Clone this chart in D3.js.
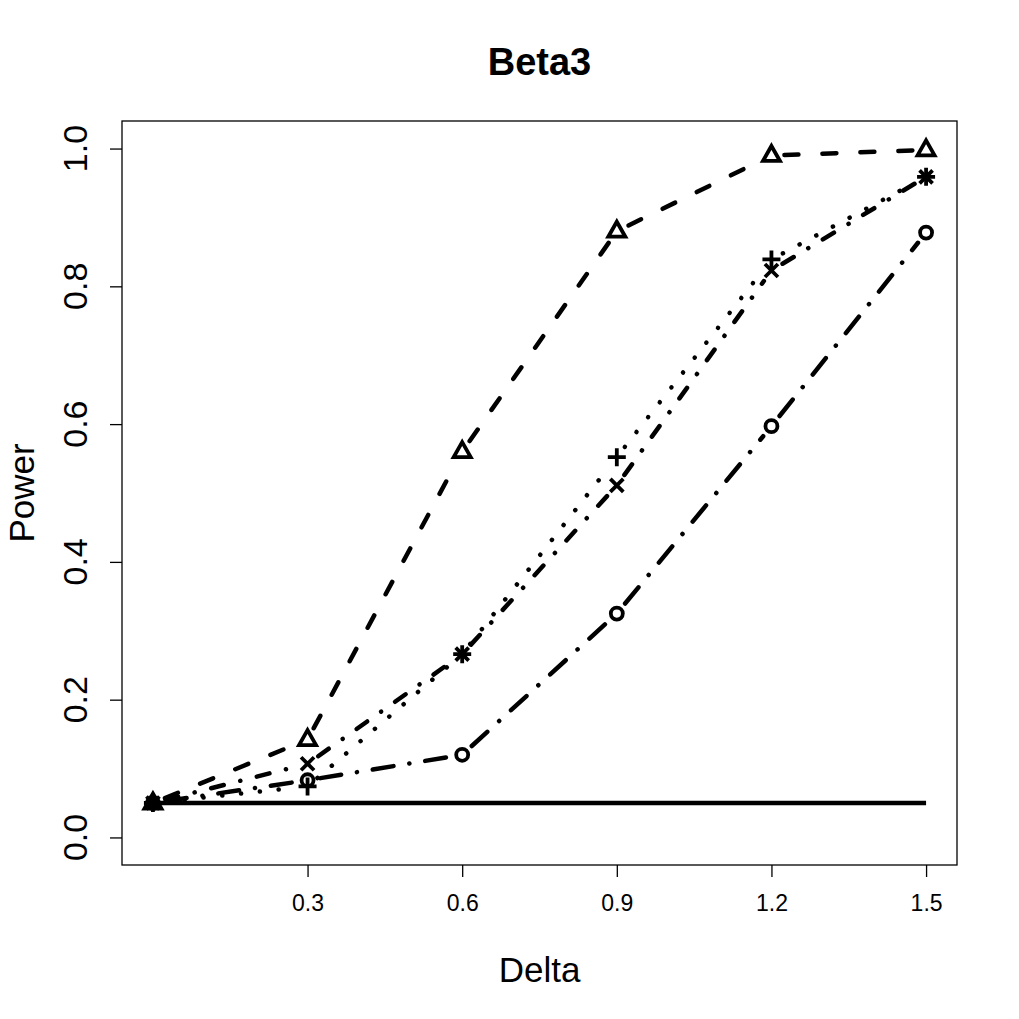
<!DOCTYPE html>
<html>
<head>
<meta charset="utf-8">
<script src="https://cdn.jsdelivr.net/npm/d3@7"></script>
<style>
  body { margin: 0; background: #fff; }
  svg text { font-family: "Liberation Sans", Arial, sans-serif; fill: #000; }
</style>
</head>
<body>
<svg id="vis" width="1019" height="1019"></svg>
<script>
const delta = [0, 0.3, 0.6, 0.9, 1.2, 1.5];
const xTicks = [0.3, 0.6, 0.9, 1.2, 1.5];
const yTicks = [0, 0.2, 0.4, 0.6, 0.8, 1.0];

const nominal = [0.05, 0.05, 0.05, 0.05, 0.05, 0.05];
const triangle = [0.05, 0.142, 0.56, 0.88, 0.99, 0.998];
const circle = [0.05, 0.083, 0.12, 0.325, 0.597, 0.878];
const cross = [0.05, 0.107, 0.266, 0.511, 0.823, 0.959];
const plus = [0.05, 0.074, 0.266, 0.552, 0.839, 0.959];

const lw = 4.5;
const gap = 13; // type="b": segments stop short of the points
const series = [
  {values: nominal, dash: null, pch: null},
  {values: triangle, dash: [14, 24], pch: "tri"},
  {values: circle, dash: [21, 16, 0.1, 16], pch: "circ"},
  {values: cross, dash: [13, 17, 0.1, 17], pch: "x"},
  {values: plus, dash: [0.1, 18.8], pch: "plus"},
];

const box = {left: 122, right: 957, top: 121, bottom: 865};

const x = d3.scaleLinear().domain([-0.06, 1.56]).range([box.left, box.right]);
const y = d3.scaleLinear().domain([-0.04, 1.04]).range([box.bottom, box.top]);

const svg = d3.select("#vis");

// frame
svg.append("rect")
  .attr("x", box.left).attr("y", box.top)
  .attr("width", box.right - box.left).attr("height", box.bottom - box.top)
  .attr("fill", "none").attr("stroke", "#000").attr("stroke-width", 1.3);

// x axis
const xAxis = svg.append("g")
  .attr("transform", `translate(0,${box.bottom})`)
  .call(d3.axisBottom(x).tickValues(xTicks).tickSize(12).tickPadding(18).tickFormat(d3.format(".1f")));
xAxis.select(".domain").remove();
xAxis.selectAll("line").attr("stroke-width", 1.3);
xAxis.attr("font-size", null).attr("font-family", null);
xAxis.selectAll("text").style("font-size", "23px");

// y axis
const yAxis = svg.append("g")
  .attr("transform", `translate(${box.left},0)`)
  .call(d3.axisLeft(y).tickValues(yTicks).tickSize(12).tickFormat(d3.format(".1f")));
yAxis.select(".domain").remove();
yAxis.selectAll("line").attr("stroke-width", 1.3);
yAxis.selectAll("text").remove();
svg.append("g").selectAll("text")
  .data(yTicks)
  .join("text")
  .attr("transform", d => `translate(87,${y(d)}) rotate(-90)`)
  .attr("text-anchor", "middle")
  .attr("font-size", 34)
  .text(d3.format(".1f"));

// titles
svg.append("text")
  .attr("x", (box.left + box.right) / 2).attr("y", 75)
  .attr("text-anchor", "middle").attr("font-size", 38).attr("font-weight", "bold")
  .text("Beta3");
svg.append("text")
  .attr("x", (box.left + box.right) / 2).attr("y", 982)
  .attr("text-anchor", "middle").attr("font-size", 35)
  .text("Delta");
svg.append("text")
  .attr("transform", `translate(34,${(box.top + box.bottom) / 2}) rotate(-90)`)
  .attr("text-anchor", "middle").attr("font-size", 35)
  .text("Power");

// lines: the reference line as one path, the others segment by segment with gaps
const line = d3.line().x((d, i) => x(delta[i])).y(d => y(d));
const lines = svg.append("g")
  .attr("fill", "none").attr("stroke", "#000").attr("stroke-width", lw);

series.forEach(s => {
  if (!s.pch) {
    lines.append("path").attr("d", line(s.values));
    return;
  }
  const pts = s.values.map((v, i) => [x(delta[i]), y(v)]);
  d3.pairs(pts).forEach(([a, b]) => {
    const dx = b[0] - a[0], dy = b[1] - a[1];
    const len = Math.hypot(dx, dy);
    if (len <= 2 * gap) return;
    const ux = dx / len, uy = dy / len;
    lines.append("line")
      .attr("x1", a[0] + ux * gap).attr("y1", a[1] + uy * gap)
      .attr("x2", b[0] - ux * gap).attr("y2", b[1] - uy * gap)
      .attr("stroke-linecap", "round")
      .attr("stroke-dasharray", s.dash.join(","));
  });
});

// markers
const shapes = {
  tri: "M0,-9.5L8.5,5.5L-8.5,5.5Z",
  x: "M-6.5,-6.5L6.5,6.5M-6.5,6.5L6.5,-6.5",
  plus: "M-9,0L9,0M0,-9L0,9",
};
series.filter(s => s.pch).forEach(s => {
  const g = svg.append("g");
  s.values.forEach((v, i) => {
    const cx = x(delta[i]), cy = y(v);
    if (s.pch === "circ") {
      g.append("circle").attr("cx", cx).attr("cy", cy).attr("r", 6)
        .attr("fill", "none").attr("stroke", "#000").attr("stroke-width", 3.8);
    } else {
      g.append("path").attr("d", shapes[s.pch])
        .attr("transform", `translate(${cx},${cy})`)
        .attr("fill", "none")
        .attr("stroke", "#000").attr("stroke-width", 3.8)
        .attr("stroke-linejoin", "miter");
    }
  });
});
</script>
</body>
</html>
